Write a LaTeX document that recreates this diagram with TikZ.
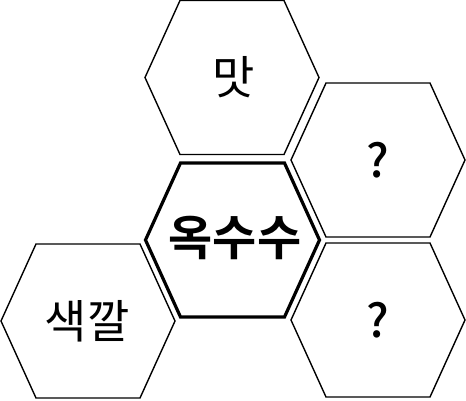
\documentclass[tikz,border=0pt]{standalone}
\usepackage{fontspec}
\newfontfamily\krfont{Noto Sans CJK KR}
\newfontfamily\krbold{Noto Sans CJK KR Bold}
\newfontfamily\krmed{Noto Sans CJK KR Medium}
\begin{document}
\begin{tikzpicture}[x=1pt,y=-1pt,
  hexline/.style={line width=1.4pt, line join=miter},
  hexthick/.style={line width=3.2pt, line join=miter},
  lab/.style={font=\krfont\fontsize{46}{50}\selectfont, inner sep=0pt},
  qlab/.style={font=\krmed\fontsize{46}{50}\selectfont, inner sep=0pt}]
\useasboundingbox (0,0) rectangle (466,400);
% hexagon outlines
\foreach \cx/\cy/\st in {232/77.5/hexline, 378/160/hexline, 88/321/hexline, 378/320/hexline, 232.5/240/hexthick}{
  \draw[\st] (\cx-87,\cy) -- (\cx-52,\cy-77) -- (\cx+52,\cy-77) -- (\cx+87,\cy) -- (\cx+52,\cy+77) -- (\cx-52,\cy+77) -- cycle;
}
\node[lab] (taste) at (234,77.5) {맛};
\node[qlab] (q1) at (378,160) {?};
\node[lab] (color) at (87,321) {색깔};
\node[qlab] (q2) at (378,320) {?};
\node[lab, font=\krbold\fontsize{48}{52}\selectfont] (corn) at (235,238) {옥수수};
\end{tikzpicture}
\end{document}
